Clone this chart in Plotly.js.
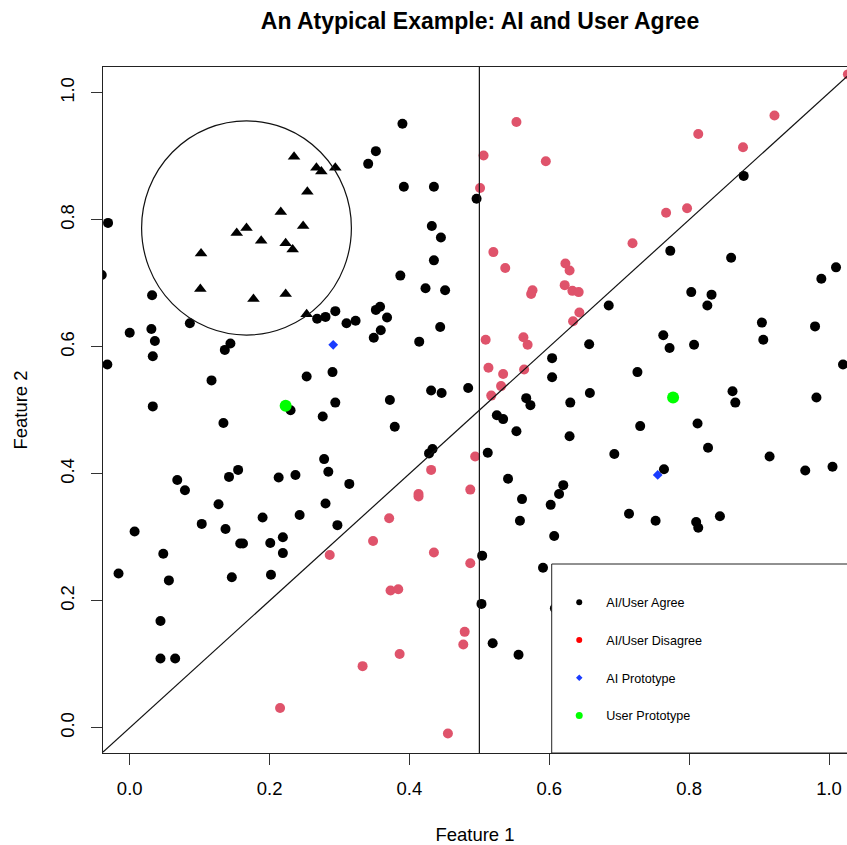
<!DOCTYPE html>
<html>
<head>
<meta charset="utf-8">
<script src="https://cdn.plot.ly/plotly-3.0.1.min.js"></script>
<style>html,body{margin:0;padding:0;background:#fff;}#chart{width:847px;height:845px;}</style>
</head>
<body>
<div id="chart"></div>
<script>
// ---- Data ----
// AI/User Agree (black dots)
var agreeX = [-0.031,-0.040,0.032,0.294,0.390,0.352,0.341,0.392,0.435,0.496,0.432,0.445,0.435,0.387,0.423,0.451,0.358,0.352,0.310,0.323,0.368,0.359,0.349,0.444,0.414,0.290,0.294,0.372,0.431,0.446,0.484,0.379,0.433,0.428,0.314,0.297,0.512,0.525,0.534,0.553,0.567,0.573,0.604,0.604,0.630,0.629,0.657,0.658,0.541,0.620,0.614,0.561,0.602,0.558,0.607,0.504,0.591,0.503,0.519,0.556,0.608,0.685,0.826,0.773,0.860,0.878,0.989,1.010,0.803,0.832,0.904,0.980,0.906,0.763,0.772,0.807,1.020,0.726,0.862,0.866,0.982,0.730,0.812,0.693,0.827,0.915,0.764,0.966,1.005,0.714,0.752,0.810,0.813,0.844,0.086,0.031,0.000,0.036,0.033,-0.032,0.144,0.136,0.268,0.280,0.117,0.253,0.230,0.276,0.033,0.134,0.278,0.284,0.068,0.079,0.142,0.155,0.213,0.237,0.127,0.280,0.243,0.190,0.103,0.137,0.007,0.158,0.162,0.201,0.219,0.219,0.048,-0.016,0.056,0.146,0.202,0.044,0.044,0.065];
var agreeY = [0.795,0.713,0.681,0.656,0.951,0.908,0.888,0.852,0.852,0.833,0.790,0.772,0.736,0.712,0.692,0.689,0.663,0.658,0.637,0.641,0.646,0.626,0.614,0.631,0.608,0.560,0.512,0.516,0.531,0.527,0.535,0.474,0.439,0.432,0.384,0.319,0.433,0.492,0.486,0.467,0.519,0.508,0.582,0.552,0.512,0.459,0.604,0.527,0.392,0.382,0.368,0.360,0.351,0.326,0.302,0.271,0.252,0.195,0.133,0.115,0.188,0.665,0.665,0.751,0.740,0.869,0.707,0.725,0.686,0.682,0.638,0.632,0.611,0.618,0.598,0.603,0.572,0.560,0.530,0.512,0.520,0.475,0.479,0.431,0.441,0.427,0.407,0.405,0.411,0.337,0.326,0.324,0.315,0.333,0.637,0.628,0.622,0.609,0.585,0.572,0.605,0.595,0.644,0.647,0.547,0.553,0.500,0.490,0.506,0.480,0.423,0.403,0.390,0.374,0.395,0.406,0.394,0.398,0.352,0.353,0.335,0.331,0.321,0.313,0.309,0.290,0.290,0.291,0.300,0.275,0.274,0.243,0.232,0.237,0.241,0.168,0.109,0.109];

// AI/User Disagree (red dots)
var disagreeX = [0.553,0.506,0.595,0.501,0.520,0.537,0.623,0.629,0.622,0.633,0.642,0.576,0.574,0.643,0.634,0.509,0.563,0.569,0.513,0.534,0.531,0.564,0.517,0.494,0.431,0.413,0.413,0.487,0.371,0.348,0.435,0.487,0.373,0.384,0.479,0.477,0.386,0.333,0.455,0.286,0.215,1.027,0.922,0.813,0.877,0.767,0.797,0.719];
var disagreeY = [0.954,0.901,0.892,0.850,0.749,0.724,0.731,0.720,0.697,0.688,0.686,0.689,0.683,0.654,0.640,0.611,0.615,0.603,0.567,0.557,0.538,0.564,0.523,0.427,0.406,0.368,0.364,0.375,0.330,0.294,0.276,0.259,0.216,0.218,0.151,0.131,0.116,0.097,-0.009,0.272,0.031,1.029,0.964,0.935,0.914,0.811,0.818,0.763];

// Points inside the circled (atypical) region (black triangles)
var circledX = [0.235,0.267,0.274,0.294,0.254,0.216,0.248,0.153,0.167,0.188,0.223,0.233,0.102,0.101,0.177,0.223,0.253];
var circledY = [0.899,0.882,0.876,0.882,0.844,0.812,0.790,0.779,0.787,0.767,0.763,0.753,0.747,0.691,0.675,0.683,0.651];

// Prototypes
var aiProtoX = [0.291, 0.755];
var aiProtoY = [0.603, 0.398];
var userProtoX = [0.223, 0.777];
var userProtoY = [0.507, 0.520];

// Legend labels
var legendLabels = ["AI/User Agree", "AI/User Disagree", "AI Prototype", "User Prototype"];

// ---- Reference geometry ----
var boundaryX = 0.5;              // vertical decision line
var circleCX = 0.167, circleCY = 0.787, circleRX = 0.150, circleRY = 0.1686;

var FONT = "Liberation Sans, Arial, Helvetica, sans-serif";
var RED = "#DF536B";

var traces = [
  {x: agreeX, y: agreeY, type: "scatter", mode: "markers", showlegend: false, hoverinfo: "x+y",
   marker: {color: "#000000", size: 10, symbol: "circle"}},
  {x: disagreeX, y: disagreeY, type: "scatter", mode: "markers", showlegend: false, hoverinfo: "x+y",
   marker: {color: RED, size: 10, symbol: "circle"}},
  {x: circledX, y: circledY, type: "scatter", mode: "markers", showlegend: false, hoverinfo: "x+y",
   marker: {color: "#000000", size: 11, symbol: "triangle-up"}},
  {x: aiProtoX, y: aiProtoY, type: "scatter", mode: "markers", showlegend: false, hoverinfo: "x+y",
   marker: {color: "#1a3cff", size: 7.5, symbol: "diamond"}},
  {x: userProtoX, y: userProtoY, type: "scatter", mode: "markers", showlegend: false, hoverinfo: "x+y",
   marker: {color: "#00ff00", size: 12, symbol: "circle"}},
  // legend-only entries
  {x: [null], y: [null], type: "scatter", mode: "markers", name: legendLabels[0], legendgroup: "a",
   marker: {color: "#000000", size: 6, symbol: "circle"}},
  {x: [null], y: [null], type: "scatter", mode: "markers", name: legendLabels[1], legendgroup: "b",
   marker: {color: "#ff0000", size: 6, symbol: "circle"}},
  {x: [null], y: [null], type: "scatter", mode: "markers", name: legendLabels[2], legendgroup: "c",
   marker: {color: "#1a3cff", size: 5, symbol: "diamond"}},
  {x: [null], y: [null], type: "scatter", mode: "markers", name: legendLabels[3], legendgroup: "d",
   marker: {color: "#00ff00", size: 7, symbol: "circle"}}
];

var xr = [-0.0382, 1.0257];
var yr = [-0.0398, 1.0405];

var layout = {
  width: 847, height: 845,
  margin: {l: 103, r: 0, t: 67, b: 92, pad: 0},
  paper_bgcolor: "#ffffff", plot_bgcolor: "#ffffff",
  font: {family: FONT, color: "#000000"},
  title: {text: "An Atypical Example: AI and User Agree",
          font: {family: FONT, size: 23, weight: "bold", color: "#000000"},
          xref: "container", x: 0.5667, xanchor: "center",
          yref: "container", y: 0.975, yanchor: "middle"},
  xaxis: {range: xr, autorange: false, showgrid: false, zeroline: false,
          tickvals: [0, 0.2, 0.4, 0.6, 0.8, 1.0], ticktext: ["0.0","0.2","0.4","0.6","0.8","1.0"],
          ticks: "outside", ticklen: 11, tickwidth: 1, tickcolor: "#333333",
          ticklabelstandoff: 8,
          tickfont: {family: FONT, size: 18.5, color: "#000000"},
          showline: true, mirror: true, linecolor: "#222222", linewidth: 1,
          title: {text: "Feature 1", font: {family: FONT, size: 18.5, color: "#000000"}, standoff: 30}},
  yaxis: {range: yr, autorange: false, showgrid: false, zeroline: false,
          tickvals: [0, 0.2, 0.4, 0.6, 0.8, 1.0], ticktext: ["0.0","0.2","0.4","0.6","0.8","1.0"],
          ticks: "outside", ticklen: 11, tickwidth: 1, tickcolor: "#333333", tickangle: -90,
          ticklabelstandoff: 10,
          tickfont: {family: FONT, size: 18.5, color: "#000000"},
          showline: true, mirror: false, linecolor: "#222222", linewidth: 1,
          title: {text: "Feature 2", font: {family: FONT, size: 18.5, color: "#000000"}, standoff: 24}},
  shapes: [
    {type: "line", xref: "x", yref: "paper", x0: boundaryX, x1: boundaryX, y0: 0, y1: 1,
     line: {color: "#111111", width: 1.2}},
    {type: "line", xref: "x", yref: "y", x0: xr[0], y0: xr[0], x1: xr[1], y1: xr[1],
     line: {color: "#111111", width: 1.2}},
    {type: "circle", xref: "x", yref: "y",
     x0: circleCX - circleRX, x1: circleCX + circleRX, y0: circleCY - circleRY, y1: circleCY + circleRY,
     line: {color: "#111111", width: 1.2}},
    {type: "rect", xref: "paper", yref: "paper", x0: 0.6031, x1: 1.05, y0: 0, y1: 0.2755,
     fillcolor: "#ffffff", line: {color: "#222222", width: 1}, layer: "above"}
  ],
  showlegend: true,
  legend: {x: 0.6038, xanchor: "left", y: 0.2412, yanchor: "top",
           bgcolor: "rgba(0,0,0,0)", borderwidth: 0, itemwidth: 44,
           tracegroupgap: 18.4, traceorder: "grouped",
           font: {family: FONT, size: 12.6, color: "#000000"}}
};

Plotly.newPlot("chart", traces, layout, {displayModeBar: false, staticPlot: true});
</script>
</body>
</html>
